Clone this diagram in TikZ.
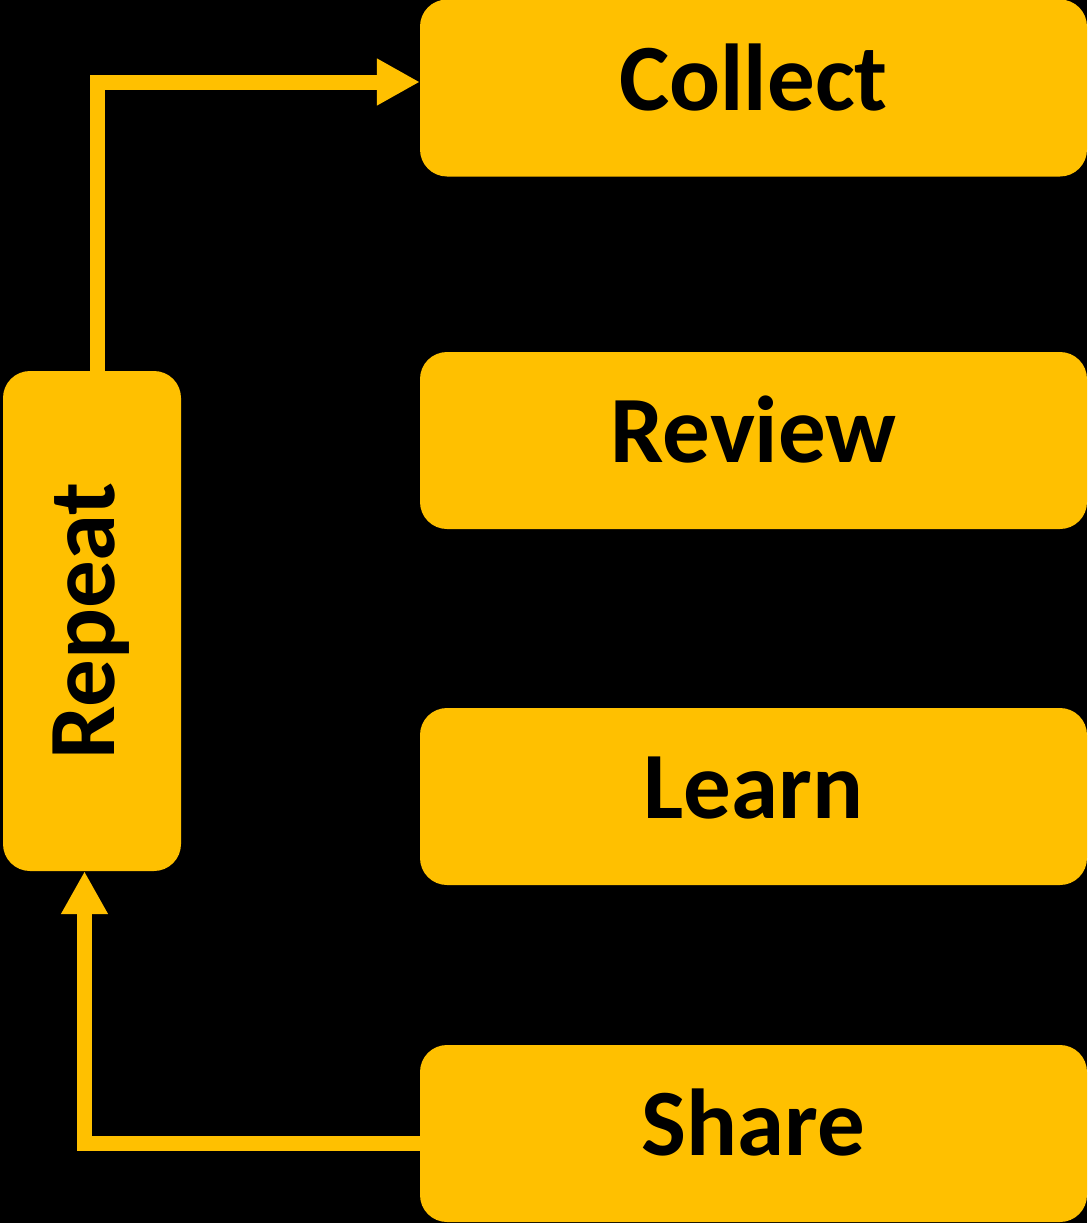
\documentclass[tikz,border=0pt]{standalone}
\usepackage{fontspec}
\setmainfont{Carlito}
\usetikzlibrary{arrows.meta}
\definecolor{gold}{HTML}{FFC000}
\tikzset{
  x=1pt, y=-1pt,
  stage/.style={fill=gold, rounded corners=27pt, minimum width=667pt, minimum height=177pt,
    inner sep=0pt, text height=44pt, text depth=0pt, align=center,
    font=\fontsize{95}{105}\selectfont\bfseries, text=black},
  loopbox/.style={stage, minimum width=500pt, minimum height=178pt, rotate=90},
  flow/.style={draw=gold, line width=15pt,
    -{Triangle[length=43pt,width=44pt]}},
}
\begin{document}
\begin{tikzpicture}
\fill[black] (0,0) rectangle (1087,1223);
\useasboundingbox (0,0) rectangle (1087,1223);
\node[stage] (collect) at (753.5,88) {Collect};
\node[stage] (review) at (753.5,440.5) {Review};
\node[stage] (learn) at (753.5,796.5) {Learn};
\node[stage] (share) at (753.5,1133.5) {Share};
\node[loopbox] (repeat) at (92,621) {Repeat};
\draw[flow] ([xshift=5pt]repeat.east) |- ([yshift=6pt]collect.west);
\draw[flow] ([yshift=-10pt]share.west) -| ([xshift=-7.5pt]repeat.west);
\end{tikzpicture}
\end{document}
